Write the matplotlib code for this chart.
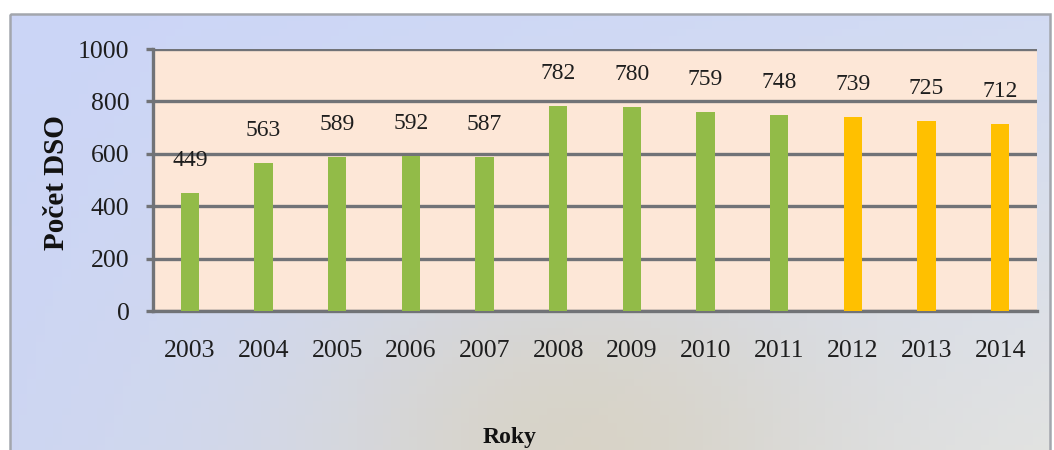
import numpy as np
import matplotlib
matplotlib.use("Agg")
import matplotlib.pyplot as plt
from matplotlib.patches import Rectangle

years = ["2003", "2004", "2005", "2006", "2007", "2008", "2009",
         "2010", "2011", "2012", "2013", "2014"]
counts = [449, 563, 589, 592, 587, 782, 780, 759, 748, 739, 725, 712]
bar_colors = ["#92bb48"] * 9 + ["#ffc000"] * 3
y_ticks = [0, 200, 400, 600, 800, 1000]
y_label = "Počet DSO"
x_label = "Roky"

W, H = 1054, 450
fig = plt.figure(figsize=(W / 100, H / 100), dpi=100)
fig.patch.set_facecolor("white")

# background frame with soft gradient
bg = fig.add_axes([0, 0, 1, 1], zorder=0)
bg.set_xlim(0, W)
bg.set_ylim(H, 0)
bg.axis("off")
ny, nx = 60, 120
xx = np.linspace(0, 1, nx)[None, :]
yy = np.linspace(0, 1, ny)[:, None]
tl = np.array([203, 213, 247])
tr = np.array([210, 219, 243])
bl = np.array([205, 214, 242])
br = np.array([226, 227, 226])
img = ((1 - xx)[..., None] * (1 - yy)[..., None] * tl + xx[..., None] * (1 - yy)[..., None] * tr
       + (1 - xx)[..., None] * yy[..., None] * bl + xx[..., None] * yy[..., None] * br)
# beige-ish haze in lower middle
haze = np.exp(-(((xx - 0.55) / 0.25) ** 2 + ((yy - 1.0) / 0.45) ** 2))[..., None]
img = img * (1 - 0.85 * haze) + np.array([216, 210, 194]) * 0.85 * haze
bg.imshow(img / 255.0, extent=[10, 1050, 452, 14], aspect="auto", zorder=0)
bg.add_patch(Rectangle((10, 14), 1040, 440, fill=False, edgecolor="#a3a6ad", lw=1.8, zorder=1))

ax = fig.add_axes([153 / W, 1 - 311 / H, (1037 - 153) / W, (311 - 49) / H], zorder=2)
ax.set_facecolor("#fde7d7")
x = np.arange(len(years))
ax.bar(x, counts, width=0.25, color=bar_colors, zorder=3)
ax.set_xlim(-0.5, len(years) - 0.5)
ax.set_ylim(0, 1000)
ax.set_yticks(y_ticks)
ax.set_yticklabels([str(v) for v in y_ticks])
ax.set_xticks(x)
ax.set_xticklabels(years)
gc = "#717377"
ax.grid(axis="y", color=gc, lw=2.4, zorder=1)
ax.set_axisbelow(True)
for s in ["top", "right"]:
    ax.spines[s].set_visible(False)
ax.spines["left"].set_color(gc)
ax.spines["left"].set_linewidth(2.4)
ax.spines["bottom"].set_color(gc)
ax.spines["bottom"].set_linewidth(2.4)
ax.tick_params(axis="y", length=5, width=2.4, color=gc, pad=12,
               labelsize=18.5, labelcolor="#1e1e1e")
ax.tick_params(axis="x", length=0, pad=21, labelsize=18.5, labelcolor="#1e1e1e")
for lab in ax.get_xticklabels() + ax.get_yticklabels():
    lab.set_fontfamily("Liberation Serif")

for xi, v in zip(x, counts):
    ax.annotate(str(v), (xi, v), xytext=(0, 23.5), textcoords="offset points",
                ha="center", va="center", fontsize=17, color="#1e1e1e",
                family="Liberation Serif", zorder=4)

fig.text(57 / W, 1 - 183 / H, y_label, rotation=90, ha="center", va="center",
         fontsize=21, fontweight="bold", family="Liberation Serif", color="#111111")
fig.text(510 / W, 1 - 438 / H, x_label, ha="center", va="center",
         fontsize=17, fontweight="bold", family="Liberation Serif", color="#111111")

fig.savefig("out.png", dpi=100)
